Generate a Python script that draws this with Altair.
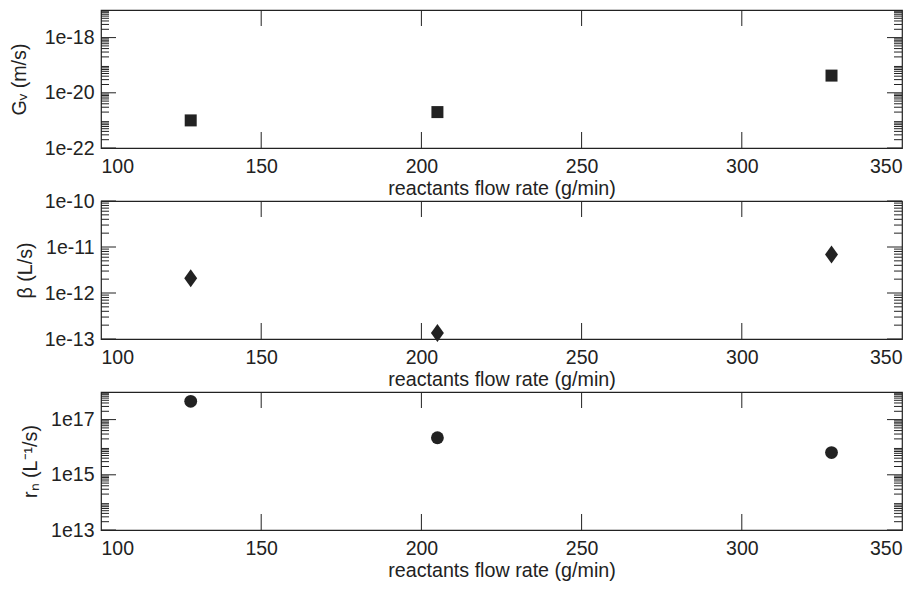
import math
import altair as alt
import pandas as pd

# ---- data ----
flow = [128, 205, 328]                      # reactants flow rate (g/min)
gv = [1.0e-21, 2.0e-21, 4.2e-20]            # G_v (m/s)
beta = [2.1e-12, 1.35e-13, 6.9e-12]         # beta (L/s)
rn = [4.6e17, 2.2e16, 6.4e15]               # r_n (L^-1/s)

x_labels = [100, 150, 200, 250, 300, 350]
x_inner_ticks = [150, 200, 250, 300]

gv_domain = [1e-22, 1e-17]
gv_major = [1e-22, 1e-20, 1e-18]
beta_domain = [1e-13, 1e-10]
beta_major = [1e-13, 1e-12, 1e-11, 1e-10]
rn_domain = [1e13, 1e18]
rn_major = [1e13, 1e15, 1e17]

W, H = 801, 138
INK = "#222222"
FONT = "Liberation Sans"
DIAMOND = "M0,-1L0.72,0L0,1L-0.72,0Z"


def minor_values(lo_exp, hi_exp):
    return [m * 10.0 ** k for k in range(lo_exp, hi_exp) for m in range(2, 10)]


def panel(values, title, domain, major, shape, size, title_x):
    df = pd.DataFrame({"flow": flow, "v": values})
    xscale = alt.Scale(domain=[100, 350], nice=False, zero=False)
    yscale = alt.Scale(type="log", domain=domain, nice=False)
    x = alt.X(
        "flow:Q",
        scale=xscale,
        axis=alt.Axis(
            values=x_labels, format="d", title="reactants flow rate (g/min)",
            ticks=False, domain=False, grid=False, labelPadding=9, titlePadding=3,
        ),
    )
    y = alt.Y(
        "v:Q",
        scale=yscale,
        axis=alt.Axis(
            values=major, format=".0e", labelExpr="replace(datum.label, '+', '')",
            title=title, ticks=False, domain=False, grid=False, labelPadding=7,
            titleX=title_x, titleBaseline="alphabetic", titleAngle=270,
        ),
    )
    pts = alt.Chart(df).mark_point(
        shape=shape, filled=True, size=size, color=INK, opacity=1, strokeWidth=0
    ).encode(x=x, y=y)

    lo = int(round(math.log10(domain[0])))
    hi = int(round(math.log10(domain[1])))
    minor_df = pd.DataFrame({"v": minor_values(lo, hi)})
    major_df = pd.DataFrame({"v": major})
    xt_df = pd.DataFrame({"flow": x_inner_ticks})

    rule = dict(color=INK, strokeWidth=1)

    layers = [
        pts,
        alt.Chart(minor_df).mark_rule(**rule).encode(y=y, x=alt.value(0), x2=alt.value(8)),
        alt.Chart(minor_df).mark_rule(**rule).encode(y=y, x=alt.value(W), x2=alt.value(W - 8)),
        alt.Chart(major_df).mark_rule(**rule).encode(y=y, x=alt.value(0), x2=alt.value(15)),
        alt.Chart(major_df).mark_rule(**rule).encode(y=y, x=alt.value(W), x2=alt.value(W - 15)),
        alt.Chart(xt_df).mark_rule(**rule).encode(x=x, y=alt.value(0), y2=alt.value(16)),
        alt.Chart(xt_df).mark_rule(**rule).encode(x=x, y=alt.value(H), y2=alt.value(H - 16)),
    ]
    return alt.layer(*layers).properties(width=W, height=H)


p1 = panel(gv, "Gᵥ (m/s)", gv_domain, gv_major, "square", 144, -76)
p2 = panel(beta, "β (L/s)", beta_domain, beta_major, DIAMOND, 324, -70)
p3 = panel(rn, "rₙ (L⁻¹/s)", rn_domain, rn_major, "circle", 165, -65)

chart = (
    alt.vconcat(p1, p2, p3, spacing=53, bounds="flush")
    .properties(padding={"left": 0, "top": 0, "right": 0, "bottom": 0}, background="white")
    .configure_view(stroke=INK, strokeWidth=1.2)
    .configure_axis(
        labelFont=FONT, titleFont=FONT, labelFontSize=19.5, titleFontSize=19.7,
        labelColor=INK, titleColor=INK, titleFontWeight="normal",
    )
)

chart.save("out.html", embed_options={"renderer": "svg", "actions": False})
